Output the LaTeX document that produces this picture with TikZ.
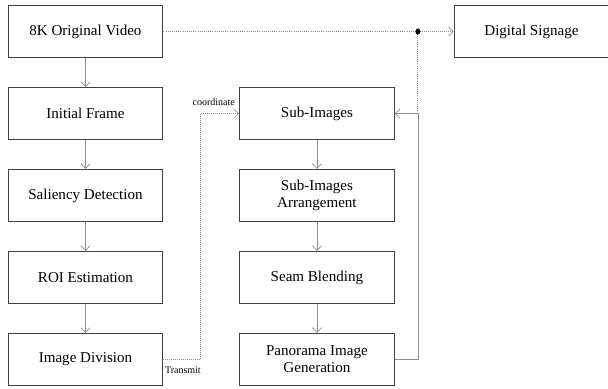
\documentclass[tikz,border=0pt]{standalone}
\usepackage{fontspec}
\setmainfont{Liberation Serif}
\usepackage{tikz}
\usetikzlibrary{arrows.meta}
\tikzstyle{box} = [draw=black!75, line width=0.9pt, minimum width=116pt, minimum height=39pt, inner sep=1pt, align=center, font=\fontsize{11.3}{12.5}\selectfont]
\tikzstyle{arrow} = [draw=black!45, line width=0.5pt, -{Straight Barb[length=3.5pt,width=7pt]}]
\tikzstyle{link} = [draw=black!45, line width=0.6pt, densely dotted]
\tikzstyle{tag} = [font=\fontsize{7.5}{8}\selectfont, inner sep=1pt]

\begin{document}
\begin{tikzpicture}[node distance=61.5pt]
		\useasboundingbox (-64.1pt,23.6pt) rectangle (391.9pt,-268.1pt);

		\node (1video) [box] {8K Original Video};
		\node (1init) [box, below of=1video] {Initial Frame};
		\node (1sal) [box, below of=1init] {Saliency Detection};
		\node (1roi) [box, below of=1sal] {ROI Estimation};
		\node (1div) [box, below of=1roi] {Image Division};

		\node (2sub) [box, right of=1init, xshift=112.1pt] {Sub-Images};
		\node (2arr) [box, below of=2sub] {Sub-Images\\Arrangement};
		\node (2seam) [box, below of=2arr] {Seam Blending};
		\node (2pano) [box, below of=2seam] {Panorama Image\\Generation};

		\node (3sign) [box, right of=1video, xshift=273pt] {Digital Signage};

		\draw [arrow] (1video) -- (1init);
		\draw [arrow] (1init) -- (1sal);
		\draw [arrow] (1sal) -- (1roi);
		\draw [arrow] (1roi) -- (1div);

		\draw [arrow] (2sub) -- (2arr);
		\draw [arrow] (2arr) -- (2seam);
		\draw [arrow] (2seam) -- (2pano);

		% feedback and split to signage
		\coordinate (fb) at ([xshift=17.25pt]2sub.east);
		\coordinate (split) at (fb |- 1video.east);
		\draw [link] (1video.east) -- (split);
		\draw [link, arrow, densely dotted] (split) -- (3sign.west);
		\draw [link] (split) -- (fb);
		\fill [black] (split) ellipse (1.8pt and 2.3pt);
		\draw [arrow] (2pano.east) -| (fb) -- (2sub.east);

		% transmit
		\coordinate (tr) at ([xshift=27.75pt]1div.east);
		\draw [link, arrow, densely dotted] (1div.east) -- (tr) |- (2sub.west);
		\node (trlabel) [tag, below right, yshift=-4pt] at (1div.east) {Transmit};
		\node (colabel) [tag, above right, xshift=-7pt, yshift=5pt] at (tr |- 2sub.west) {coordinate};
	\end{tikzpicture}
\end{document}
